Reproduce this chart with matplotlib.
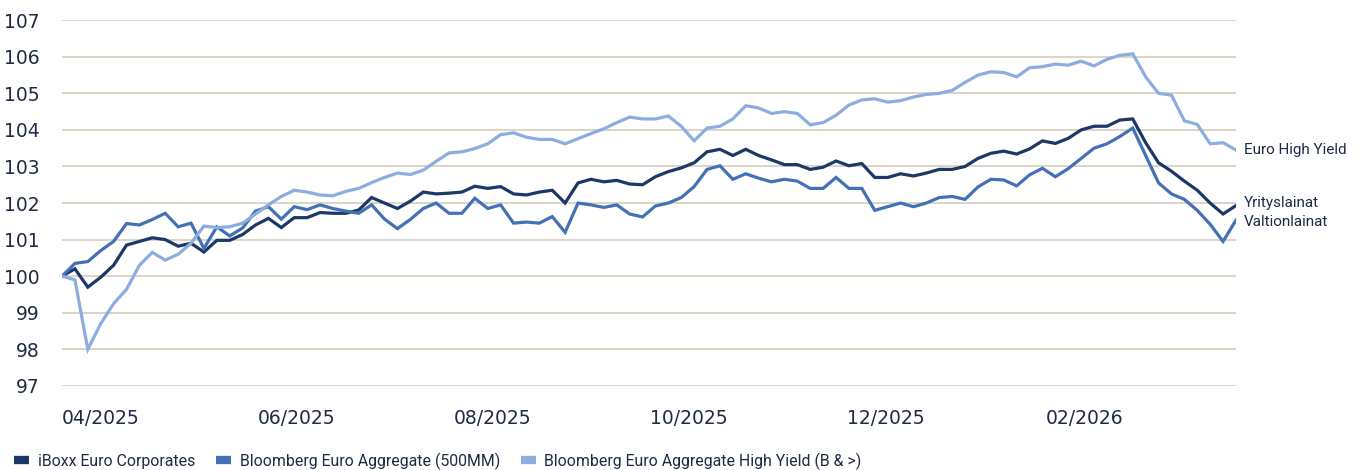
import pandas as pd
import matplotlib
matplotlib.use("Agg")
import matplotlib.pyplot as plt
import matplotlib.dates as mdates
import matplotlib.transforms as mtransforms
from matplotlib.lines import Line2D

# one year, index = 100 at start
dates = pd.date_range("2025-03-20", "2026-03-20", periods=92)

iboxx_corp = [
    100.0, 100.2, 99.7, 99.97, 100.3, 100.85, 100.95, 101.05, 101.0, 100.82, 100.9, 100.66, 100.98, 100.98, 101.14, 101.4,
    101.58, 101.33, 101.6, 101.6, 101.74, 101.72, 101.72, 101.81, 102.15, 102.0, 101.85, 102.05, 102.3, 102.25, 102.27,
    102.3, 102.46, 102.4, 102.45, 102.25, 102.22, 102.3, 102.35, 102.0, 102.55, 102.65, 102.58, 102.62, 102.52, 102.5,
    102.72, 102.86, 102.96, 103.1, 103.4, 103.47, 103.3, 103.47, 103.3, 103.18, 103.05, 103.05, 102.92, 102.98, 103.15,
    103.02, 103.08, 102.7, 102.7, 102.8, 102.74, 102.82, 102.92, 102.92, 103.0, 103.22, 103.36, 103.42, 103.34, 103.48, 103.7,
    103.63, 103.77, 104.0, 104.1, 104.1, 104.27, 104.3, 103.65, 103.1, 102.87, 102.6, 102.35, 102.0, 101.7, 101.93,
]

bbg_agg = [
    100.0, 100.35, 100.4, 100.7, 100.95, 101.44, 101.4, 101.55, 101.72, 101.35, 101.45, 100.76, 101.35, 101.1, 101.32, 101.78,
    101.9, 101.56, 101.9, 101.82, 101.95, 101.85, 101.78, 101.72, 101.95, 101.56, 101.3, 101.55, 101.85, 102.0, 101.72,
    101.72, 102.13, 101.85, 101.95, 101.45, 101.48, 101.45, 101.63, 101.2, 102.0, 101.95, 101.88, 101.95, 101.7, 101.62,
    101.92, 102.0, 102.15, 102.45, 102.92, 103.02, 102.65, 102.8, 102.68, 102.58, 102.65, 102.6, 102.4, 102.4, 102.7,
    102.4, 102.4, 101.8, 101.9, 102.0, 101.9, 102.0, 102.15, 102.18, 102.1, 102.44, 102.65, 102.63, 102.47, 102.77, 102.95,
    102.72, 102.94, 103.22, 103.5, 103.62, 103.82, 104.05, 103.3, 102.55, 102.25, 102.1, 101.8, 101.42, 100.95, 101.53,
]

bbg_hy = [
    100.0, 99.9, 98.0, 98.7, 99.25, 99.64, 100.3, 100.65, 100.44, 100.6, 100.9, 101.37, 101.33, 101.35, 101.45, 101.7,
    101.95, 102.18, 102.35, 102.3, 102.22, 102.2, 102.32, 102.4, 102.56, 102.7, 102.82, 102.78, 102.9, 103.14, 103.37,
    103.4, 103.49, 103.62, 103.87, 103.92, 103.8, 103.74, 103.74, 103.62, 103.76, 103.9, 104.03, 104.2, 104.35, 104.3,
    104.3, 104.38, 104.1, 103.7, 104.05, 104.1, 104.3, 104.66, 104.6, 104.45, 104.5, 104.45, 104.14, 104.2, 104.4,
    104.68, 104.82, 104.85, 104.76, 104.8, 104.9, 104.97, 105.0, 105.08, 105.3, 105.5, 105.59, 105.57, 105.45, 105.7, 105.73,
    105.8, 105.77, 105.88, 105.75, 105.93, 106.04, 106.08, 105.45, 105.0, 104.95, 104.25, 104.15, 103.62, 103.65, 103.45,
]

series_names = ["iBoxx Euro Corporates", "Bloomberg Euro Aggregate (500MM)",
                "Bloomberg Euro Aggregate High Yield (B & >)"]
end_labels = [("Euro High Yield", 103.45), ("Yrityslainat", 102.0), ("Valtionlainat", 101.48)]
month_ticks = ["2025-04-01", "2025-06-01", "2025-08-01", "2025-10-01", "2025-12-01", "2026-02-01"]

colors = ["#1c3866", "#4471b6", "#8caddf"]
text_col = "#1f2a44"
grid_col = "#d9d2c4"

fig = plt.figure(figsize=(13.66, 4.70), dpi=100)
ax = fig.add_axes([0.0454, 0.179, 0.8594, 0.778])

for vals, c in zip([iboxx_corp, bbg_agg, bbg_hy], colors):
    ax.plot(dates, vals, color=c, lw=2.3, solid_joinstyle="miter")

ax.set_xlim(dates[0], dates[-1])
ax.set_ylim(97, 107)
ax.set_yticks(range(97, 108))
ax.yaxis.grid(True, color=grid_col, lw=1.3)
ax.set_axisbelow(True)
for s in ax.spines.values():
    s.set_visible(False)

ax.set_xticks(pd.to_datetime(month_ticks))
ax.xaxis.set_major_formatter(mdates.DateFormatter("%m/%Y"))
ax.tick_params(axis="both", length=0, labelsize=13.5, labelcolor=text_col)
ax.tick_params(axis="y", pad=16)
ax.tick_params(axis="x", pad=17)

# labels at the line ends
trans = mtransforms.blended_transform_factory(ax.transAxes, ax.transData)
for txt, yv in end_labels:
    ax.text(1.007, yv, txt, transform=trans, ha="left", va="center",
            fontsize=11, color=text_col, family="Roboto")

handles = [Line2D([], [], color=c, lw=6, solid_capstyle="butt") for c in colors]
fig.legend(handles, series_names, loc="lower left", bbox_to_anchor=(0.0, -0.03),
           ncol=3, frameon=False, handlelength=0.95, handletextpad=0.55,
           columnspacing=1.3, prop={"family": "Roboto", "size": 11.4},
           labelcolor=text_col)

fig.savefig("out.png", dpi=100)
